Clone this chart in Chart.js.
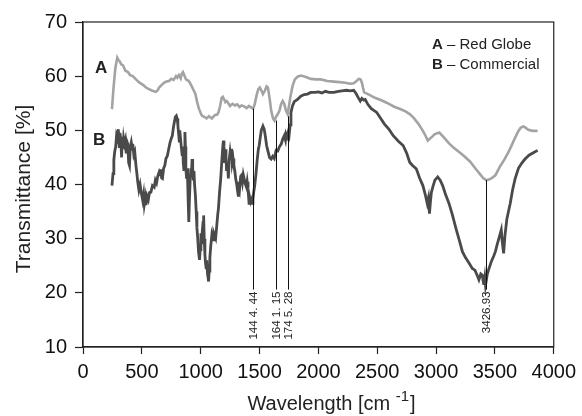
<!DOCTYPE html>
<html>
<head>
<meta charset="utf-8">
<script src="https://cdn.jsdelivr.net/npm/chart.js@4/dist/chart.umd.min.js"></script>
<style>
  html, body { margin: 0; padding: 0; background: #fff; }
  #wrap { width: 582px; height: 416px; }
</style>
</head>
<body>
<div id="wrap"><canvas id="graph_container" width="582" height="416"></canvas></div>
<script>
// curve A - Red Globe
var aWave = [246,260,275,291,300,310,325,340,360,380,400,423,450,480,510,535,560,590,619,635,647,665,690,710,731,750,770,790,801,815,830,840,849,860,875,899,920,940,955,970,985,1000,1011,1030,1050,1070,1095,1120,1140,1151,1165,1178,1188,1200,1210,1221,1235,1249,1270,1290,1310,1330,1347,1370,1390,1410,1431,1445,1459,1475,1490,1502,1515,1529,1545,1560,1571,1585,1600,1615,1627,1640,1655,1669,1683,1697,1710,1725,1739,1750,1765,1781,1800,1823,1852,1900,1935,1980,2020,2076,2130,2180,2230,2270,2300,2320,2342,2358,2370,2380,2389,2430,2480,2530,2580,2640,2700,2740,2776,2810,2850,2888,2910,2930,2960,2990,3028,3070,3110,3150,3196,3240,3290,3336,3370,3400,3426,3450,3475,3504,3540,3580,3616,3650,3675,3700,3720,3742,3760,3784,3820,3863];
var aTrans = [53.9,58,61.5,63.4,63,62.8,62.2,62,61,60.8,60.2,60.0,59.4,58.8,58.4,57.9,57.6,57.3,57.1,57.4,57.9,58.3,58.8,59,59.1,59.5,59.3,60,59.7,60.2,59.6,60.5,60.75,60.2,59.4,59.1,58.3,57.4,56.7,55.2,54,53.2,52.7,52.5,52.2,52.6,52.2,52.8,52.9,53.3,54.5,56,56.2,55.7,55.2,55.4,55.0,54.5,54.9,54.6,54.8,54.3,54.6,54.4,54.1,54.5,54.2,54.0,54.8,56.5,57.6,57.9,57.4,56.7,57.3,58.1,57.9,56,53.5,52.2,51.8,52.5,53.0,53.6,54.8,55.4,54.9,53.6,53.0,54.5,56.5,58.2,59.4,59.9,60.1,59.8,59.5,59.4,59.4,59.1,59.0,58.9,58.8,58.6,58.7,59.0,59.5,59.4,58.8,57.8,57.0,56.6,56.0,55.6,55.1,54.4,53.9,53.5,53.0,52.3,51.2,49.9,49,48.1,48.7,49.3,49.6,48.6,47.6,46.8,46.0,45.2,44.2,42.9,42.0,41.2,40.8,40.9,41.2,41.7,43.2,44.6,46.0,47.6,48.8,49.9,50.5,50.7,50.5,50.1,49.9,49.9];

// curve B - Commercial
var bWave = [246,255,262,269,278,285,292,300,308,314,320,328,334,339,345,352,360,367,372,380,388,395,402,410,418,423,432,440,450,458,465,475,485,495,507,515,521,530,535,545,555,565,577,590,605,615,625,635,647,655,662,668,675,685,695,705,717,728,740,750,759,768,776,785,793,800,806,812,818,822,829,835,842,848,852,858,863,866,870,874,880,886,890,895,899,904,910,918,922,927,932,938,943,948,955,962,968,975,982,990,996,1002,1008,1014,1020,1025,1030,1036,1041,1046,1052,1058,1063,1067,1072,1078,1085,1095,1105,1112,1120,1127,1135,1145,1151,1160,1170,1180,1188,1193,1198,1203,1210,1215,1220,1228,1235,1242,1250,1256,1263,1268,1275,1282,1291,1298,1305,1312,1319,1325,1332,1340,1347,1355,1362,1370,1378,1389,1395,1402,1411,1418,1425,1432,1438,1444,1450,1459,1470,1480,1490,1497,1505,1515,1529,1540,1550,1560,1571,1585,1599,1612,1625,1641,1655,1670,1685,1697,1710,1720,1725,1734,1745,1752,1760,1767,1780,1795,1823,1850,1880,1907,1935,1970,2000,2030,2060,2090,2131,2170,2200,2240,2270,2300,2320,2340,2356,2370,2385,2398,2420,2450,2496,2530,2560,2600,2636,2680,2720,2750,2776,2800,2832,2860,2888,2910,2925,2935,2944,2952,2960,2972,2990,3014,3035,3056,3080,3110,3140,3170,3200,3224,3250,3280,3308,3330,3350,3364,3380,3392,3400,3406,3414,3420,3434,3450,3470,3490,3504,3520,3540,3554,3562,3574,3585,3602,3630,3650,3672,3700,3730,3756,3790,3830,3863];
var bTrans = [39.8,42,44.5,46,47,49,48.5,50.2,47,49.5,48.5,45,48.8,46.6,48.5,47.5,48.2,46,48,47.5,44,43.5,47,47.8,46.5,47.5,45.5,46,43.5,42,40.5,39,40,38.5,37.1,38.2,36.3,37.5,36.2,37.8,37.2,38.5,38.6,39.8,39.5,40.8,40.3,41.5,42.3,41.8,42.8,41.2,41.1,43,43.5,44.8,45.3,46.5,47.8,48.5,49.0,50.5,51.5,52.5,52.7,52.2,51,49.5,48,50,48.4,47,45.5,47,44,42.5,45,49.7,47,43,41.1,43,40,36,33.1,37,40.5,43,42,44.7,43,41,42.5,40,38.0,35,32,30,27.5,26.1,28,31,29,31.5,33,34.3,30,27,25.5,24.6,26,23.5,22.8,22.1,24,26.5,28.5,30.7,29.8,31,30.5,30.1,32,34.5,35.6,38.5,41,44.5,47,48.1,47,44,46.5,45,42.5,44,41.1,44.5,46,45,46.6,44,44.8,43.5,42.3,41,40.2,39,38.0,40.5,39.5,41.5,41.7,40.5,41.8,41,40.2,39.5,40.5,39.2,36.5,37.5,36.8,37.2,36.5,37.2,38.5,39.8,42,44.5,46.5,47.2,48.5,50,50.8,50.2,48.8,47.2,46.2,45,44.7,45.2,44.8,46.3,46.2,47,47.5,48.4,49,48.2,49.3,48.8,49.8,49.2,51,53.3,54.5,55.3,55.7,56.3,56.6,56.7,57.0,57.0,57.1,56.9,57.2,57.0,57.0,57.2,57.3,57.4,57.3,57.4,56.8,56.0,55.4,55.9,55.6,55.7,54.8,54.0,53.3,52.2,51.2,50.2,49.0,48.0,47.2,45.8,44.1,43.5,42.9,41.2,39.8,38,36.5,37.5,34.6,36.8,38.5,39.5,40.8,41.4,40.8,39.8,38.2,36.5,34.3,31.8,29.5,27.6,26.5,25.5,24.5,24.2,23.2,22.4,23.5,23.3,22.2,21.5,22.8,21.4,23.3,24.5,25.8,26.8,27.6,29,30.5,31.6,29.5,27.3,30.5,33.7,36.5,39,41.1,43,44,44.7,45.4,45.9,46.3];

// marked peaks
var peakWave = [1444.44, 1641.15, 1745.28, 3426.93];
var peakTop = [54.0, 51.8, 52.6, 40.8];
var peakBottom = [20.6, 20.6, 20.6, 20.6];
var peakText = ["144 4. 44", "164 1. 15", "174 5. 28", "3426.93"];

var xTicks = [0, 500, 1000, 1500, 2000, 2500, 3000, 3500, 4000];
var yTicks = [10, 20, 30, 40, 50, 60, 70];

var FONT = "'Liberation Sans', Arial, sans-serif";

function toPoints(xs, ys) {
    var pts = [];
    for (var i = 0; i < xs.length; i++) pts.push({x: xs[i], y: ys[i]});
    return pts;
}

// box, peak markers and all the loose text
var extras = {
    id: 'extras',
    afterDatasetsDraw: function(chart) {
        var ctx = chart.ctx;
        var a = chart.chartArea;
        var xs = chart.scales.x, ys = chart.scales.y;
        ctx.save();

        ctx.strokeStyle = '#222';
        ctx.lineWidth = 1.2;
        ctx.strokeRect(a.left, a.top, a.right - a.left, a.bottom - a.top);

        ctx.strokeStyle = '#111';
        ctx.lineWidth = 1;
        ctx.fillStyle = '#222';
        ctx.font = '11.5px ' + FONT;
        for (var i = 0; i < peakWave.length; i++) {
            var px = Math.round(xs.getPixelForValue(peakWave[i])) + 0.5;
            var top = ys.getPixelForValue(peakTop[i]);
            var bot = ys.getPixelForValue(peakBottom[i]);
            ctx.beginPath();
            ctx.moveTo(px, top);
            ctx.lineTo(px, bot);
            ctx.stroke();
            ctx.save();
            ctx.translate(px, bot + 2);
            ctx.rotate(-Math.PI / 2);
            ctx.textAlign = 'right';
            ctx.textBaseline = 'middle';
            ctx.fillText(peakText[i], 0, 0);
            ctx.restore();
        }

        // curve letters
        ctx.fillStyle = '#222';
        ctx.textAlign = 'left';
        ctx.textBaseline = 'alphabetic';
        ctx.font = 'bold 17px ' + FONT;
        ctx.fillText('A', 95, 73);
        ctx.fillText('B', 93, 145);

        // legend text
        var rows = [['A', ' \u2013 Red Globe', 48.5], ['B', ' \u2013 Commercial', 68.5]];
        rows.forEach(function(r) {
            ctx.font = 'bold 15px ' + FONT;
            ctx.fillText(r[0], 432, r[2]);
            var w = ctx.measureText(r[0]).width;
            ctx.font = '15px ' + FONT;
            ctx.fillText(r[1], 432 + w, r[2]);
        });

        // y title
        ctx.save();
        ctx.translate(24, 189);
        ctx.rotate(-Math.PI / 2);
        ctx.textAlign = 'center';
        ctx.textBaseline = 'middle';
        ctx.font = '21px ' + FONT;
        ctx.fillText('Transmittance [%]', 0, 0);
        ctx.restore();

        // x title with superscript
        var main = 'Wavelength [cm ', sup = '-1', end = ']';
        ctx.font = '20px ' + FONT;
        var w1 = ctx.measureText(main).width;
        var w3 = ctx.measureText(end).width;
        ctx.font = '15px ' + FONT;
        var w2 = ctx.measureText(sup).width;
        var x0 = 331 - (w1 + w2 + w3) / 2;
        var base = 409.5;
        ctx.font = '20px ' + FONT;
        ctx.fillText(main, x0, base);
        ctx.font = '15px ' + FONT;
        ctx.fillText(sup, x0 + w1, base - 9);
        ctx.font = '20px ' + FONT;
        ctx.fillText(end, x0 + w1 + w2 + 1, base);

        ctx.restore();
    }
};

var ctx = document.getElementById('graph_container').getContext('2d');
var myChart = new Chart(ctx, {
    type: 'line',
    data: {
        datasets: [{
            label: 'A - Red Globe',
            data: toPoints(aWave, aTrans),
            borderColor: '#a3a3a3',
            borderWidth: 2.6,
            pointRadius: 0,
            tension: 0,
            fill: false
        }, {
            label: 'B - Commercial',
            data: toPoints(bWave, bTrans),
            borderColor: '#4a4a4a',
            borderWidth: 2.8,
            pointRadius: 0,
            tension: 0,
            fill: false
        }]
    },
    options: {
        responsive: false,
        animation: false,
        layout: { padding: { left: 0, top: 22, right: 23, bottom: 0 } },
        plugins: { legend: { display: false }, tooltip: { enabled: false } },
        scales: {
            x: {
                type: 'linear',
                min: 0, max: 4000,
                afterFit: function(s) { s.height = 69; },
                afterBuildTicks: function(s) { s.ticks = xTicks.map(function(v) { return {value: v}; }); },
                grid: { drawOnChartArea: false, drawTicks: true, tickLength: 7, color: '#222', tickWidth: 1.2 },
                border: { display: true, color: '#222', width: 1.2 },
                ticks: {
                    color: '#111', padding: 6, maxRotation: 0, autoSkip: false,
                    font: { family: FONT, size: 20 },
                    callback: function(v) { return String(v); }
                }
            },
            y: {
                min: 10, max: 70,
                afterFit: function(s) { s.width = 83; },
                afterBuildTicks: function(s) { s.ticks = yTicks.map(function(v) { return {value: v}; }); },
                grid: { drawOnChartArea: false, drawTicks: true, tickLength: 8, color: '#222', tickWidth: 1.2 },
                border: { display: true, color: '#222', width: 1.2 },
                ticks: {
                    color: '#111', padding: 8,
                    font: { family: FONT, size: 20 },
                    callback: function(v) { return String(v); }
                }
            }
        }
    },
    plugins: [extras]
});
</script>
</body>
</html>
